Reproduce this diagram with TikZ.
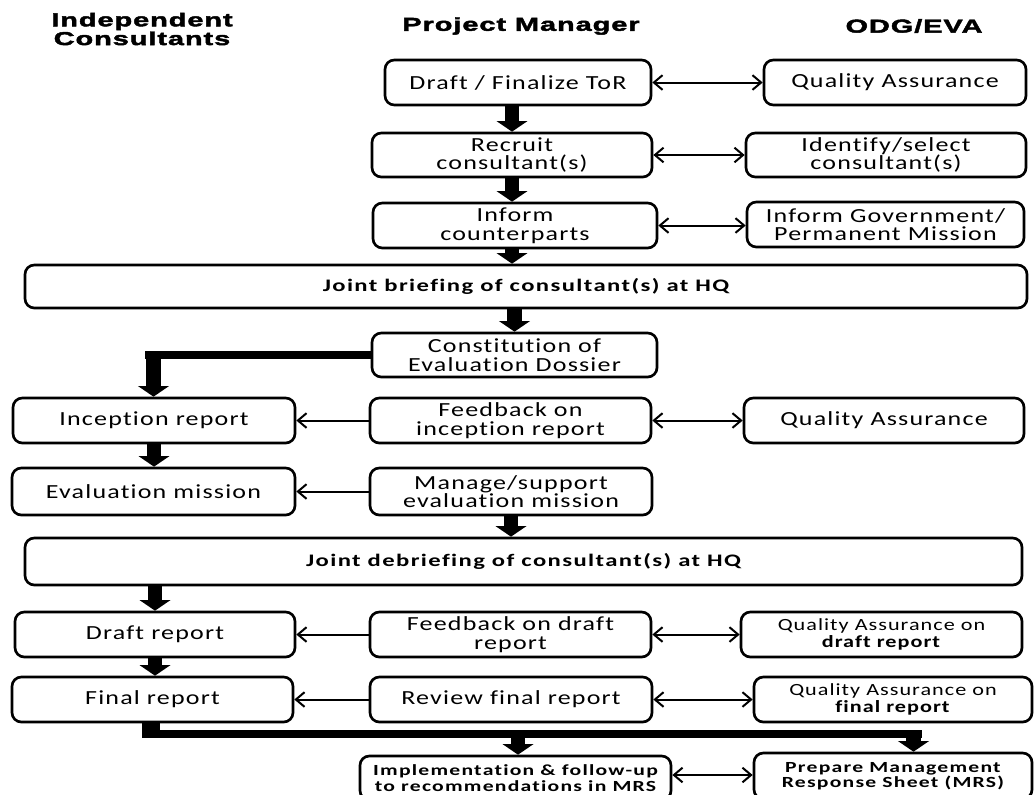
\documentclass[tikz,border=0pt]{standalone}
\usepackage{fontspec}
\setmainfont{Carlito}
\newfontfamily\bodyf[FakeStretch=1.3,LetterSpace=6,Ligatures=NoCommon]{Carlito}
\newfontfamily\boldf[FakeStretch=1.4,LetterSpace=8,Ligatures=NoCommon]{Carlito}
\newfontfamily\headf[FakeStretch=1.55,LetterSpace=5,FakeBold=2.4]{Liberation Sans}
\usetikzlibrary{arrows.meta}
\begin{document}
\begin{tikzpicture}[x=0.75pt,y=-0.75pt,
  box/.style={draw=black, line width=2pt, rounded corners=7pt, fill=white, inner sep=0pt, align=center, font=\bodyf\fontsize{15}{14}\selectfont},
  wh/.style 2 args={minimum width={#1*0.75pt}, minimum height={#2*0.75pt}},
  bbox/.style={box, font=\boldf\bfseries\fontsize{13.2}{13}\selectfont},
  sbox/.style={box, font=\boldf\bfseries\fontsize{11.6}{11.6}\selectfont},
  qbox/.style={box, font=\bodyf\fontsize{12.8}{13}\selectfont},
  head/.style={font=\headf\bfseries\fontsize{14}{11.5}\selectfont, align=center, inner sep=0pt},
  bigarrow/.style={line width=11pt, -{Triangle[length=8pt,width=23pt]}},
  bar/.style={line width=6pt},
  twoway/.style={line width=1.5pt, {Straight Barb[length=6.5pt,width=11pt]}-{Straight Barb[length=6.5pt,width=11pt]}},
  oneway/.style={line width=1.5pt, -{Straight Barb[length=6.5pt,width=11pt]}},
]
\clip (0,0) rectangle (1034,794);
\fill[white] (0,0) rectangle (1034,794);

% headers
\node[head] (hic) at (142,29) {Independent\\Consultants};
\node[head] (hpm) at (521,26) {Project Manager};
\node[head] (hodg) at (914,26) {ODG/EVA};

% boxes
\node[box, wh={266}{45}] (tor) at (518,82.5) {Draft / Finalize ToR};
\node[box, wh={262}{45}] (qa1) at (895,82.5) {Quality Assurance};
\node[box, wh={280}{44}] (recruit) at (512,155) {Recruit\\consultant(s)};
\node[box, wh={280}{44}] (identify) at (886,155) {Identify/select\\consultant(s)};
\node[box, wh={284}{45}] (inform) at (515,225.5) {Inform\\counterparts};
\node[box, wh={277}{45}] (informgov) at (885.5,224.5) {Inform Government/\\Permanent Mission};
\node[bbox, wh={1002}{43}] (briefing) at (526,286.5) {Joint briefing of consultant(s) at HQ};
\node[box, wh={285}{44}] (constitution) at (514.5,355) {Constitution of\\Evaluation Dossier};
\node[box, wh={282}{45}] (inception) at (154,420.5) {Inception report};
\node[box, wh={281}{45}] (fbinc) at (510.5,420.5) {Feedback on\\inception report};
\node[box, wh={280}{45}] (qa2) at (884,420.5) {Quality Assurance};
\node[box, wh={283}{47}] (evalm) at (153.5,491.5) {Evaluation mission};
\node[box, wh={282}{47}] (manage) at (511,491.5) {Manage/support\\evaluation mission};
\node[bbox, wh={997}{47}] (debriefing) at (523.5,561.5) {Joint debriefing of consultant(s) at HQ};
\node[box, wh={280}{45}] (draftr) at (155,634.5) {Draft report};
\node[box, wh={281}{45}] (fbdraft) at (510.5,634.5) {Feedback on draft\\report};
\node[qbox, wh={281}{45}] (qadraft) at (881.5,634.5) {Quality Assurance on\\\textbf{draft report}};
\node[box, wh={281}{45}] (finalr) at (152.5,699.5) {Final report};
\node[box, wh={282}{45}] (review) at (511,699.5) {Review final report};
\node[qbox, wh={278}{45}] (qafinal) at (893,699.5) {Quality Assurance on\\\textbf{final report}};
\node[sbox, wh={311}{44}] (impl) at (515.5,778) {Implementation \& follow-up\\to recommendations in MRS};
\node[sbox, wh={278}{46}] (mrs) at (893,776) {Prepare Management\\Response Sheet (MRS)};

% thin arrows
\draw[twoway] (tor.east) -- (qa1.west);
\draw[twoway] (recruit.east) -- (identify.west);
\draw[twoway] (inform.east) -- (inform.east -| informgov.west);
\draw[oneway] (fbinc.west) -- (inception.east);
\draw[twoway] (fbinc.east) -- (qa2.west);
\draw[oneway] (manage.west) -- (evalm.east);
\draw[oneway] (fbdraft.west) -- (draftr.east);
\draw[twoway] (fbdraft.east) -- (qadraft.west);
\draw[oneway] (review.west) -- (finalr.east);
\draw[twoway] (review.east) -- (qafinal.west);
\draw[twoway] (impl.east |- 0,775) -- (mrs.west |- 0,775);

% thick arrows
\draw[bigarrow] (recruit.north |- tor.south) -- (recruit.north);
\draw[bigarrow] (recruit.south) -- (recruit.south |- inform.north);
\draw[bigarrow] (recruit.south |- inform.south) -- (recruit.south |- briefing.north);
\draw[bigarrow] (constitution.north |- briefing.south) -- (constitution.north);
\coordinate (c0) at (145,355);
\coordinate (c1) at (153.5,351);
\draw[bar] (constitution.west) -- (c0);
\draw[bigarrow] (c1) -- (c1 |- inception.north);
\draw[bigarrow] (inception.south) -- (inception.south |- evalm.north);
\draw[bigarrow] (manage.south) -- (manage.south |- debriefing.north);
\draw[bigarrow] (draftr.north |- debriefing.south) -- (draftr.north);
\draw[bigarrow] (draftr.south) -- (draftr.south |- finalr.north);
\coordinate (b0) at (151,722);
\coordinate (b1) at (151,738);
\draw[line width=13pt] (b0) -- (b1);
\coordinate (h0) at (142,734);
\coordinate (h1) at (922,734);
\draw[bar] (h0) -- (h1);
\coordinate (i0) at (518,734);
\draw[bigarrow] (i0) -- (i0 |- impl.north);
\coordinate (m0) at (913.5,730);
\draw[bigarrow] (m0) -- (m0 |- mrs.north);
\end{tikzpicture}
\end{document}
